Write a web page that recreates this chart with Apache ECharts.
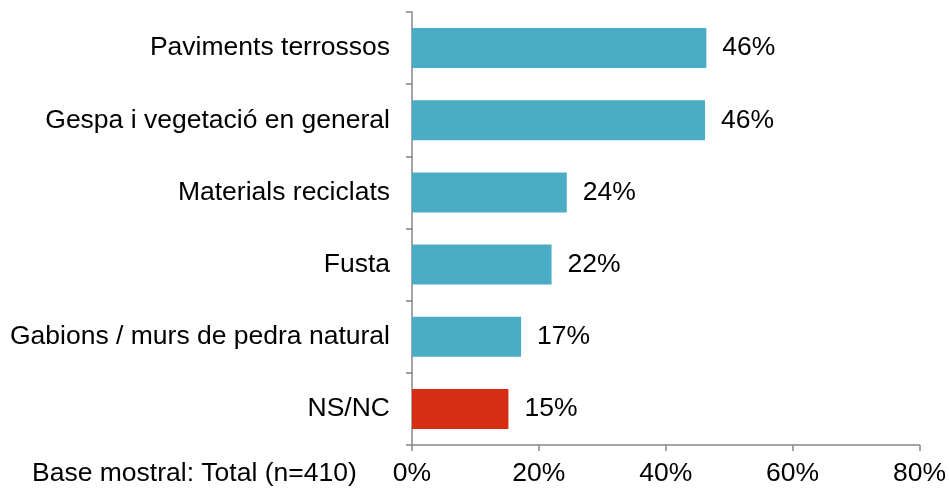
<!DOCTYPE html>
<html>
<head>
<meta charset="utf-8">
<script src="https://cdn.jsdelivr.net/npm/echarts@6/dist/echarts.min.js"></script>
<style>
  html, body { margin: 0; padding: 0; background: #fff; }
  #chart { width: 949px; height: 489px; }
</style>
</head>
<body>
<div id="chart"></div>
<script>
// categories from top to bottom
const categories = [
  'Paviments terrossos',
  'Gespa i vegetació en general',
  'Materials reciclats',
  'Fusta',
  'Gabions / murs de pedra natural',
  'NS/NC'
];
const values = [46.4, 46.2, 24.4, 22.0, 17.2, 15.2];
const barColors = ['#4BACC6', '#4BACC6', '#4BACC6', '#4BACC6', '#4BACC6', '#D62E13'];
const xTicks = [0, 20, 40, 60, 80];
const footnote = 'Base mostral: Total (n=410)';

const chart = echarts.init(document.getElementById('chart'), null, { renderer: 'canvas' });

const axisColor = '#868686';
const font = 'Liberation Sans, Arial, sans-serif';
const fs = 26.5;

const option = {
  animation: false,
  grid: {
    left: 412,
    right: 29,
    top: 12,
    bottom: 44,
    containLabel: false
  },
  graphic: [{
    type: 'text',
    left: 32,
    top: 460,
    style: {
      text: footnote,
      font: fs + 'px ' + font,
      fill: '#000'
    }
  }],
  xAxis: {
    type: 'value',
    min: xTicks[0],
    max: xTicks[xTicks.length - 1],
    interval: 20,
    splitLine: { show: false },
    axisLine: { show: true, lineStyle: { color: axisColor, width: 1.5 } },
    axisTick: { show: true, length: 6, lineStyle: { color: axisColor, width: 1.5 } },
    axisLabel: {
      formatter: '{value}%',
      color: '#000',
      fontSize: fs,
      fontFamily: font,
      margin: 15
    }
  },
  yAxis: {
    type: 'category',
    inverse: true,
    data: categories,
    axisLine: { show: true, lineStyle: { color: axisColor, width: 1.5 } },
    axisTick: { show: true, length: 6, lineStyle: { color: axisColor, width: 1.5 } },
    axisLabel: {
      color: '#000',
      fontSize: fs,
      fontFamily: font,
      margin: 22
    }
  },
  series: [{
    type: 'bar',
    barWidth: 40,
    data: values.map(function (v, i) {
      return { value: v, itemStyle: { color: barColors[i] } };
    }),
    label: {
      show: true,
      position: 'right',
      distance: 16,
      color: '#000',
      fontSize: fs,
      fontFamily: font,
      formatter: function (p) {
        return Math.round(p.value) + '%';
      }
    }
  }]
};

chart.setOption(option);
</script>
</body>
</html>
